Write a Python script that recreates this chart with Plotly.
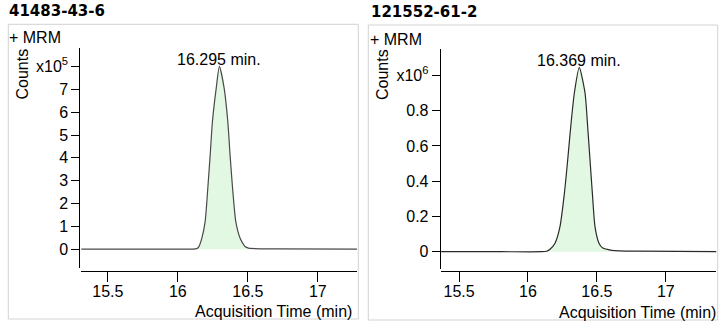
import plotly.graph_objects as go

W, H = 726, 325

# ---------------- data ----------------
left_title = "41483-43-6"
right_title = "121552-61-2"
left_rt_label = "16.295 min."
right_rt_label = "16.369 min."
left_rt = 16.295
right_rt = 16.369

left_time = [15.31, 15.80, 16.10, 16.135, 16.15, 16.171, 16.195, 16.214, 16.231, 16.247,
             16.274, 16.297, 16.331, 16.357, 16.373, 16.391, 16.414, 16.445, 16.465,
             16.48, 16.505, 16.70, 17.28]
left_counts = [1000, 1000, 1000, 3000, 12000, 48000, 121000, 267000, 413000, 558000,
               704000, 800000, 704000, 558000, 413000, 267000, 121000, 48000, 25000,
               12000, 5000, 2000, 1000]
left_int = [16.13, 16.51]

right_time = [15.37, 15.80, 16.10, 16.136, 16.16, 16.196, 16.232, 16.264, 16.288, 16.310,
              16.336, 16.372, 16.414, 16.433, 16.450, 16.467, 16.486, 16.515, 16.54,
              16.607, 16.80, 17.37]
right_counts = [0, 0, 0, 3000, 14000, 48000, 142000, 331000, 520000, 709000,
                899000, 1046000, 899000, 709000, 520000, 331000, 142000, 48000, 22000,
                8000, 3000, 0]
right_int = [16.13, 16.61]

x_ticks = [15.5, 16, 16.5, 17]
x_ticktext = ["15.5", "16", "16.5", "17"]
left_yticks = [0, 1e5, 2e5, 3e5, 4e5, 5e5, 6e5, 7e5, 8e5]
left_yticktext = ["0", "1", "2", "3", "4", "5", "6", "7", "x10<sup>5</sup>"]
right_yticks = [0, 2e5, 4e5, 6e5, 8e5, 1e6]
right_yticktext = ["0", "0.2", "0.4", "0.6", "0.8", "x10<sup>6</sup>"]

# ---------------- helpers ----------------
def px(x):
    return x / W

def py(y):
    return 1 - y / H

FONT = "Liberation Sans, Arial, sans-serif"
TXT = "#000000"
FILL = "#e2f8e2"
FS = 16

fig = go.Figure()

def add_panel(t, c, rng, xa, ya, base_color):
    ft = [a for a in t if rng[0] <= a <= rng[1]]
    fc = [b for a, b in zip(t, c) if rng[0] <= a <= rng[1]]
    fig.add_trace(go.Scatter(x=ft, y=fc, mode="lines", fill="tozeroy",
                             fillcolor=FILL, line=dict(width=0, shape="spline", smoothing=0.6),
                             xaxis=xa, yaxis=ya, hoverinfo="skip", showlegend=False))
    fig.add_trace(go.Scatter(x=t, y=c, mode="lines",
                             line=dict(color=base_color, width=1.2, shape="spline", smoothing=0.6),
                             xaxis=xa, yaxis=ya, showlegend=False))

add_panel(left_time, left_counts, left_int, "x", "y", "#4a4a4a")
add_panel(right_time, right_counts, right_int, "x2", "y2", "#2a2a2a")

axis_common = dict(showgrid=False, zeroline=False, showline=True, linecolor="#000",
                   linewidth=1, ticks="outside", tickcolor="#000", tickwidth=1,
                   tickfont=dict(family=FONT, size=FS, color=TXT), anchor="free")

fig.update_layout(
    width=W, height=H, margin=dict(l=0, r=0, t=0, b=0),
    paper_bgcolor="white", plot_bgcolor="white",
    xaxis=dict(domain=[px(81), px(357)], range=[15.308, 17.28], position=py(270.7),
               tickvals=x_ticks, ticktext=x_ticktext, ticklen=10, ticklabelstandoff=-4,
               **axis_common),
    yaxis=dict(domain=[py(268), py(48)], range=[-0.818e5, 8.806e5], position=px(79.3),
               tickvals=left_yticks, ticktext=left_yticktext, ticklen=8, **axis_common),
    xaxis2=dict(domain=[px(441), px(716.3)], range=[15.369, 17.366], position=py(270.7),
                tickvals=x_ticks, ticktext=x_ticktext, ticklen=10, ticklabelstandoff=-4,
                **axis_common),
    yaxis2=dict(domain=[py(269), py(49)], range=[-0.098e6, 1.150e6], position=px(439.7),
                tickvals=right_yticks, ticktext=right_yticktext, ticklen=8, **axis_common),
)

# panel frames
for x0, y0, x1, y1 in [(8.3, 24.3, 358.3, 319), (368.3, 25, 717.7, 320)]:
    fig.add_shape(type="rect", xref="paper", yref="paper",
                  x0=px(x0), x1=px(x1), y0=py(y0), y1=py(y1),
                  line=dict(color="#d3d3d3", width=1), fillcolor="rgba(0,0,0,0)", layer="below")

def ann(text, x, y, size=FS, xanchor="left", angle=0, family=FONT):
    fig.add_annotation(text=text, xref="paper", yref="paper", x=px(x), y=py(y),
                       xanchor=xanchor, yanchor="middle", showarrow=False, textangle=angle,
                       font=dict(family=family, size=size, color=TXT))

ann("<b>%s</b>" % left_title, 7, 11.5, size=15, family="DejaVu Sans, Verdana, sans-serif")
ann("<b>%s</b>" % right_title, 369, 12.5, size=15, family="DejaVu Sans, Verdana, sans-serif")
ann("+ MRM", 7, 37.7)
ann("+ MRM", 368, 39.3)
ann("Counts", 22.5, 74, xanchor="center", angle=-90)
ann("Counts", 382, 75, xanchor="center", angle=-90)
ann("Acquisition Time (min)", 354, 311.5, xanchor="right")
ann("Acquisition Time (min)", 718, 312.2, xanchor="right")

# retention-time labels, anchored at the peak apex
fig.add_annotation(text=left_rt_label, x=left_rt, y=max(left_counts), xref="x", yref="y",
                   xanchor="center", yanchor="bottom", showarrow=False, yshift=-4,
                   font=dict(family=FONT, size=FS, color=TXT))
fig.add_annotation(text=right_rt_label, x=right_rt, y=max(right_counts), xref="x2", yref="y2",
                   xanchor="center", yanchor="bottom", showarrow=False, yshift=-4,
                   font=dict(family=FONT, size=FS, color=TXT))

fig.write_html("out.html")
